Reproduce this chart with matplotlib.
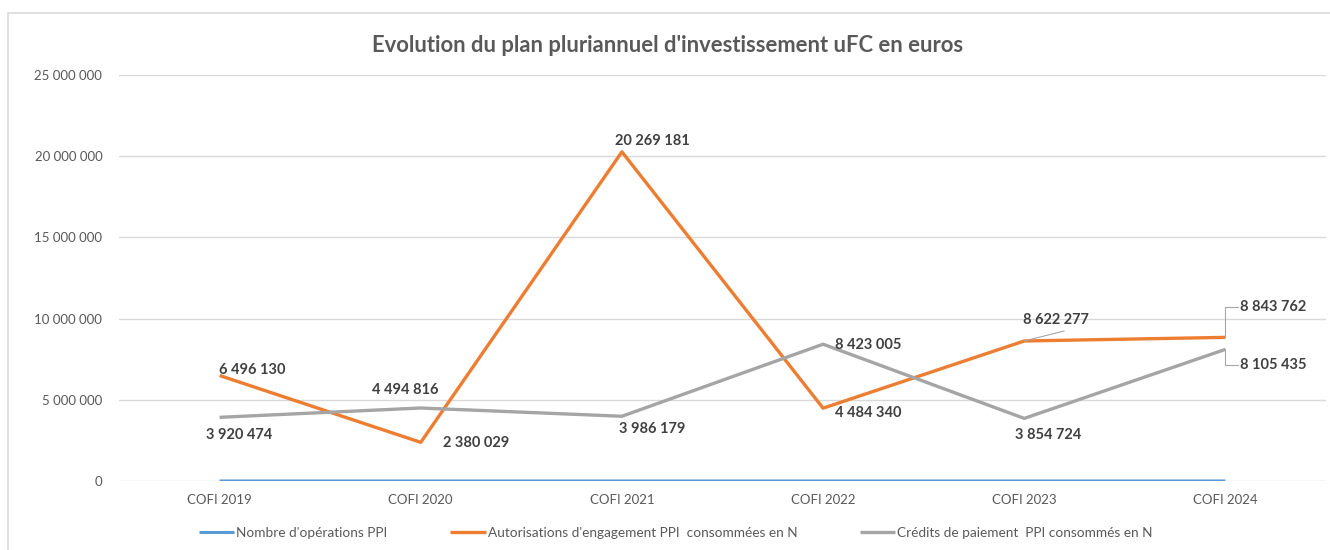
import matplotlib
matplotlib.use("Agg")
import matplotlib.pyplot as plt
from matplotlib.patches import Rectangle
from matplotlib.ticker import FuncFormatter

plt.rcParams['font.family'] = ['Lato', 'DejaVu Sans']

categories = ["COFI 2019", "COFI 2020", "COFI 2021", "COFI 2022", "COFI 2023", "COFI 2024"]
nb_operations = [28, 34, 41, 39, 45, 52]
autorisations = [6496130, 2380029, 20269181, 4484340, 8622277, 8843762]
credits = [3920474, 4494816, 3986179, 8423005, 3854724, 8105435]

series_names = ["Nombre d'opérations PPI",
                "Autorisations d'engagement PPI  consommées en N",
                "Crédits de paiement  PPI consommés en N"]

BLUE, ORANGE, GREY = "#5B9BD5", "#ED7D31", "#A5A5A5"
TXT = "#595959"
LBL = "#404040"


def fmt(v):
    return f"{int(round(v)):,}".replace(",", " ")


fig = plt.figure(figsize=(13.3, 5.5), dpi=100)
fig.patches.append(Rectangle((8 / 1330, -0.1), 1.5, (550 - 13) / 550 + 0.1,
                             transform=fig.transFigure, fill=False,
                             edgecolor="#d9d9d9", linewidth=1.2))

ax = fig.add_axes([119 / 1330, 69 / 550, (1326 - 119) / 1330, (481 - 75) / 550])
x = list(range(len(categories)))

ax.plot(x, nb_operations, color=BLUE, lw=2.2, solid_capstyle="butt", label=series_names[0], zorder=3)
ax.plot(x, autorisations, color=ORANGE, lw=2.4, solid_capstyle="butt", label=series_names[1], zorder=3)
ax.plot(x, credits, color=GREY, lw=2.4, solid_capstyle="butt", label=series_names[2], zorder=3)

ax.set_xlim(-0.5, 5.5)
ax.set_ylim(0, 25000000)
ax.set_yticks(range(0, 25000001, 5000000))
ax.yaxis.set_major_formatter(FuncFormatter(lambda v, p: fmt(v)))
ax.set_xticks(x)
ax.set_xticklabels(categories)
ax.grid(axis="y", color="#d9d9d9", lw=1)
ax.set_axisbelow(True)
for s in ax.spines.values():
    s.set_visible(False)
ax.tick_params(length=0, colors=TXT, labelsize=9.5)
ax.tick_params(axis="y", pad=12)
ax.tick_params(axis="x", pad=9)

# data labels: (series values, index, offset in pixels, alignment)
def label(vals, i, dx, dy, ha="center", leader=None):
    kw = dict(textcoords="offset pixels", ha=ha, va="center",
              fontsize=10.5, fontweight="bold", color=LBL, zorder=5)
    if leader is not None:
        kw["arrowprops"] = dict(arrowstyle="-", color="#a6a6a6", lw=0.8,
                                shrinkA=0, shrinkB=0, connectionstyle=leader)
    ax.annotate(fmt(vals[i]), xy=(i, vals[i]), xytext=(dx, dy), **kw)

label(autorisations, 0, 33, 6)
label(credits, 0, 20, -18)
label(credits, 1, -15, 18)
label(autorisations, 1, 55, -1)
label(autorisations, 2, 30, 11)
label(credits, 2, 30, -13)
label(credits, 3, 45, -1)
label(autorisations, 3, 45, -5)
label(autorisations, 4, 32, 21)
ax.annotate("", xy=(4, autorisations[4]), xytext=(40, 10), textcoords="offset pixels",
            arrowprops=dict(arrowstyle="-", color="#a6a6a6", lw=0.8, shrinkA=0, shrinkB=0))
label(credits, 4, 24, -17)
label(autorisations, 5, 15, 30, ha="left", leader="angle,angleA=0,angleB=90,rad=0")
label(credits, 5, 15, -16, ha="left", leader="angle,angleA=0,angleB=90,rad=0")

fig.text(668 / 1330, 1 - 45 / 550, "Evolution du plan pluriannuel d'investissement uFC en euros",
         ha="center", va="center", fontsize=15.8, fontweight="bold", color=TXT)

fig.legend(loc="center", bbox_to_anchor=(676 / 1330, 1 - 533 / 550), ncol=3, frameon=False,
           fontsize=9.8, labelcolor=TXT, handlelength=2.6, handletextpad=0.15,
           columnspacing=4.6)

fig.savefig("out.png", dpi=100)
